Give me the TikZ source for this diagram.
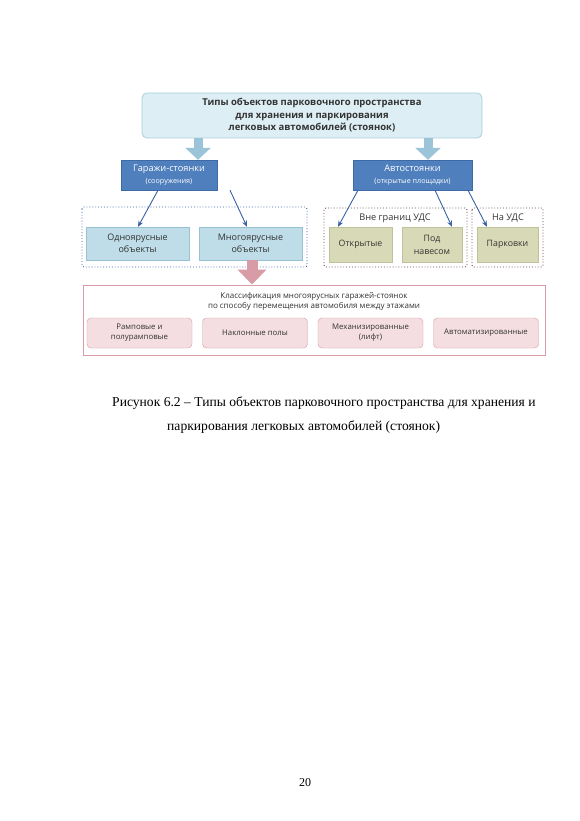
\documentclass[tikz,border=0pt]{standalone}
\usepackage{fontspec}
\setmainfont{Liberation Serif}
\newfontfamily\diagfont{Open Sans}
\usetikzlibrary{arrows.meta,positioning}
\definecolor{titlefill}{HTML}{DDEEF4}
\definecolor{titleline}{HTML}{A9CFDD}
\definecolor{fatblue}{HTML}{9CC4D8}
\definecolor{darkblue}{HTML}{4F7FBD}
\definecolor{darkblueline}{HTML}{3E6BA6}
\definecolor{lightblue}{HTML}{BEDDE8}
\definecolor{lightblueline}{HTML}{96C2D4}
\definecolor{dotblue}{HTML}{3A62A5}
\definecolor{khaki}{HTML}{D8DAB7}
\definecolor{khakiline}{HTML}{BFC29A}
\definecolor{dotbrown}{HTML}{6E4545}
\definecolor{pinkline}{HTML}{D79CA5}
\definecolor{pinkfill}{HTML}{F4DEE1}
\definecolor{txt}{HTML}{333333}
\tikzset{
titlebox/.style={rectangle, rounded corners=5pt, draw=titleline, fill=titlefill, line width=0.8pt, minimum width=340pt, minimum height=45pt, align=center, font=\diagfont\bfseries\fontsize{9.5}{12.5}\selectfont, text=txt},
kindbox/.style={rectangle, draw=darkblueline, fill=darkblue, minimum height=30pt, align=center, text=white, font=\diagfont\fontsize{9.2}{12}\selectfont},
bluebox/.style={rectangle, draw=lightblueline, fill=lightblue, minimum width=103pt, minimum height=33pt, align=center, text=txt, font=\diagfont\fontsize{9}{12}\selectfont},
khakibox/.style={rectangle, draw=khakiline, fill=khaki, minimum height=35pt, align=center, text=txt, font=\diagfont\fontsize{8.8}{13}\selectfont},
pinkbox/.style={rectangle, rounded corners=4pt, draw=pinkline, fill=pinkfill, minimum width=105pt, minimum height=30pt, align=center, text=txt, font=\diagfont\fontsize{7.8}{10}\selectfont},
groupbox/.style={rectangle, rounded corners=2pt, dotted, line width=0.9pt},
grouplabel/.style={text=txt, font=\diagfont\fontsize{9.2}{11}\selectfont},
fatarrow/.style={line width=9pt, -{Triangle[width=25pt,length=12pt]}},
connect/.style={draw=dotblue, line width=0.9pt, -{Stealth[length=6pt,width=5pt]}}
}
\begin{document}
\begin{tikzpicture}[x=1pt,y=-1pt]
\useasboundingbox[fill=white] (0,0) rectangle (580,821);
% top level
\node[titlebox] (types) at (312,115.5) {Типы объектов парковочного пространства\\для хранения и паркирования\\легковых автомобилей (стоянок)};
\node[kindbox, minimum width=96pt] (garages) at (169,175) {Гаражи-стоянки\\{\fontsize{7.2}{9}\selectfont(сооружения)}};
\node[kindbox, minimum width=119pt] (parkings) at (412.5,175) {Автостоянки\\{\fontsize{7.2}{9}\selectfont(открытые площадки)}};
\draw[fatarrow, fatblue] (types.south -| 198,0) -- (garages.north -| 198,0);
\draw[fatarrow, fatblue] (types.south -| 428,0) -- (parkings.north -| 428,0);

% garages
\draw[groupbox, draw=dotblue] (82,207) rectangle (307,267);
\node[bluebox] (single) at (137.5,243.5) {Одноярусные\\объекты};
\node[bluebox] (multi) at (250.5,243.5) {Многоярусные\\объекты};
\draw[connect] (garages.south -| 158,0) -- (single.north -| 138,0);
\draw[connect] (garages.south -| 230,0) -- (multi.north -| 247,0);

% parkings
\draw[groupbox, draw=dotbrown] (324,208) rectangle (467,267);
\node[grouplabel] (outside) at (395,218) {Вне границ УДС};
\draw[groupbox, draw=dotbrown] (472,208) rectangle (543,267);
\node[grouplabel] (onroad) at (508,218) {На УДС};
\node[khakibox, minimum width=63pt] (open) at (360.5,244.5) {Открытые};
\node[khakibox, minimum width=60pt] (shed) at (432,244.5) {Под\\навесом};
\node[khakibox, minimum width=61pt] (street) at (507.5,244.5) {Парковки};
\draw[connect] (parkings.south -| 358,0) -- (open.north -| 338,0);
\draw[connect] (parkings.south -| 435,0) -- (shed.north -| 452,0);
\draw[connect] (parkings.south -| 468,0) -- (street.north -| 487,0);

% classification
\node[rectangle, draw=pinkline, line width=0.9pt, minimum width=462pt, minimum height=70pt] (classes) at (314,320) {};
\node[text=txt, align=center, font=\diagfont\fontsize{8}{10}\selectfont] (classtitle) at (314,301) {Классификация многоярусных гаражей-стоянок\\по способу перемещения автомобиля между этажами};
\draw[fatarrow, pinkline, line width=11pt, -{Triangle[width=28pt,length=15pt]}] (multi.south -| 252,0) -- (classes.north -| 252,0);
\node[pinkbox] (ramp) at (139.5,333) {Рамповые и\\полурамповые};
\node[pinkbox] (slope) at (255,333) {Наклонные полы};
\node[pinkbox] (lift) at (370.5,333) {Механизированные\\(лифт)};
\node[pinkbox] (auto) at (486,333) {Автоматизированные};

% caption and page number
\node[anchor=base west, font=\fontsize{13.6}{16}\selectfont, inner sep=0pt] (cap1) at (112,406) {Рисунок 6.2 – Типы объектов парковочного пространства для хранения и};
\node[anchor=base west, font=\fontsize{13.6}{16}\selectfont, inner sep=0pt] (cap2) at (167,430) {паркирования легковых автомобилей (стоянок)};
\node[font=\fontsize{12}{14}\selectfont] (page) at (305,783) {20};
\end{tikzpicture}
\end{document}
